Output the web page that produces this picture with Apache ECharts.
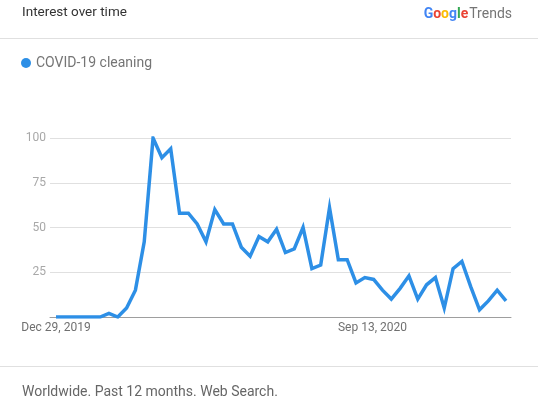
<!DOCTYPE html>
<html>
<head>
<meta charset="utf-8">
<script src="https://cdn.jsdelivr.net/npm/echarts@6/dist/echarts.min.js"></script>
<style>
    html, body { margin: 0; padding: 0; background: #fff; }
    #divChart { width: 538px; height: 409px; }
</style>
</head>
<body>
<div id="divChart"></div>
<script>
    // weekly values, Dec 29, 2019 onwards
    var weeks = [
        'Dec 29, 2019', 'Jan 5, 2020', 'Jan 12, 2020', 'Jan 19, 2020', 'Jan 26, 2020',
        'Feb 2, 2020', 'Feb 9, 2020', 'Feb 16, 2020', 'Feb 23, 2020', 'Mar 1, 2020',
        'Mar 8, 2020', 'Mar 15, 2020', 'Mar 22, 2020', 'Mar 29, 2020', 'Apr 5, 2020',
        'Apr 12, 2020', 'Apr 19, 2020', 'Apr 26, 2020', 'May 3, 2020', 'May 10, 2020',
        'May 17, 2020', 'May 24, 2020', 'May 31, 2020', 'Jun 7, 2020', 'Jun 14, 2020',
        'Jun 21, 2020', 'Jun 28, 2020', 'Jul 5, 2020', 'Jul 12, 2020', 'Jul 19, 2020',
        'Jul 26, 2020', 'Aug 2, 2020', 'Aug 9, 2020', 'Aug 16, 2020', 'Aug 23, 2020',
        'Aug 30, 2020', 'Sep 6, 2020', 'Sep 13, 2020', 'Sep 20, 2020', 'Sep 27, 2020',
        'Oct 4, 2020', 'Oct 11, 2020', 'Oct 18, 2020', 'Oct 25, 2020', 'Nov 1, 2020',
        'Nov 8, 2020', 'Nov 15, 2020', 'Nov 22, 2020', 'Nov 29, 2020', 'Dec 6, 2020',
        'Dec 13, 2020', 'Dec 20, 2020'
    ];
    var interest = [
        0, 0, 0, 0, 0, 0, 2, 0, 5, 15,
        42, 100, 89, 94, 58, 58, 52, 42, 60, 52,
        52, 39, 34, 45, 42, 49, 36, 38, 50, 27,
        29, 61, 32, 32, 19, 22, 21, 15, 10, 16,
        23, 10, 18, 22, 5, 27, 31, 17, 4, 9,
        15, 9
    ];
    var shownLabels = ['Dec 29, 2019', 'Sep 13, 2020'];
    var yTicks = [25, 50, 75, 100];

    var myChart = echarts.init(document.getElementById('divChart'));
    var font = 'Roboto, Arial, sans-serif';

    var option = {
        animation: false,
        backgroundColor: '#fff',
        textStyle: { fontFamily: font },
        // grid 0 carries gridlines and y labels, grid 1 carries the line
        grid: [
            { left: 50, right: 27, top: 138, bottom: 92 },
            { left: 56, right: 32, top: 138, bottom: 92 }
        ],
        xAxis: [
            {
                gridIndex: 0,
                type: 'category',
                boundaryGap: false,
                data: ['', ''],
                axisLine: { lineStyle: { color: '#9e9e9e', width: 1 } },
                axisTick: { show: false },
                axisLabel: { show: false },
                splitLine: { show: false }
            },
            {
                gridIndex: 1,
                type: 'category',
                boundaryGap: false,
                data: weeks,
                axisLine: { show: false },
                axisTick: { show: false },
                axisLabel: {
                    interval: 0,
                    color: '#707070',
                    fontSize: 12,
                    margin: 5,
                    formatter: function (v) {
                        if (v === shownLabels[1]) return '{s|' + v + '}';
                        return shownLabels.indexOf(v) >= 0 ? v : '';
                    },
                    rich: {
                        s: { color: '#707070', fontSize: 12, padding: [0, 20, 0, 0] }
                    }
                },
                splitLine: { show: false }
            }
        ],
        yAxis: [
            {
                gridIndex: 0,
                type: 'value',
                min: 0,
                max: 100,
                interval: 25,
                axisLine: { show: false },
                axisTick: { show: false },
                axisLabel: {
                    color: '#a8a8a8',
                    fontSize: 12,
                    margin: 4,
                    formatter: function (v) {
                        return yTicks.indexOf(v) >= 0 ? v : '';
                    }
                },
                splitLine: { lineStyle: { color: '#e0e0e0', width: 1 } }
            },
            {
                gridIndex: 1,
                type: 'value',
                min: 0,
                max: 100,
                interval: 25,
                show: false,
                splitLine: { show: false }
            }
        ],
        series: [
            {
                name: 'COVID-19 cleaning',
                type: 'line',
                xAxisIndex: 1,
                yAxisIndex: 1,
                data: interest,
                symbol: 'none',
                lineStyle: { color: '#2d8fe6', width: 3.5, join: 'miter' },
                itemStyle: { color: '#2d8fe6' }
            }
        ],
        legend: {
            show: true,
            left: 16,
            top: 51,
            icon: 'circle',
            itemWidth: 10,
            itemHeight: 10,
            itemGap: 8,
            textStyle: { color: '#757575', fontSize: 14, fontFamily: font },
            data: ['COVID-19 cleaning']
        },
        graphic: [
            {
                type: 'text',
                left: 22,
                top: 6,
                style: { text: 'Interest over time', fill: '#333', font: '13.5px ' + font }
            },
            {
                type: 'text',
                right: 26,
                top: 7,
                style: {
                    rich: {
                        b: { fill: '#4285f4', fontSize: 14, fontWeight: 'bold', fontFamily: font },
                        r: { fill: '#ea4335', fontSize: 14, fontWeight: 'bold', fontFamily: font },
                        y: { fill: '#fbbc05', fontSize: 14, fontWeight: 'bold', fontFamily: font },
                        g: { fill: '#34a853', fontSize: 14, fontWeight: 'bold', fontFamily: font },
                        t: { fill: '#757575', fontSize: 14, fontFamily: font, padding: [0, 0, 0, 1] }
                    },
                    text: '{b|G}{r|o}{y|o}{b|g}{g|l}{r|e}{t|Trends}'
                }
            },
            {
                type: 'line',
                shape: { x1: 0, y1: 38.5, x2: 538, y2: 38.5 },
                style: { stroke: '#e0e0e0', lineWidth: 1 }
            },
            {
                type: 'line',
                shape: { x1: 0, y1: 366.5, x2: 538, y2: 366.5 },
                style: { stroke: '#e0e0e0', lineWidth: 1 }
            },
            {
                type: 'text',
                left: 22,
                top: 385,
                style: { text: 'Worldwide. Past 12 months. Web Search.', fill: '#666', font: '14px ' + font }
            }
        ]
    };
    myChart.setOption(option);
</script>
</body>
</html>
